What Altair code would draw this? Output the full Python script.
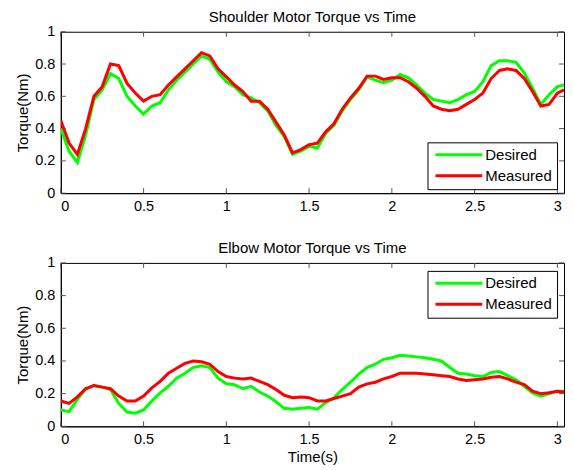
import altair as alt
import pandas as pd

time_s = [0.0, 0.05, 0.1, 0.15, 0.2, 0.25, 0.3, 0.35, 0.4, 0.45, 0.5, 0.55, 0.6, 0.65, 0.7, 0.75,
          0.8, 0.85, 0.9, 0.95, 1.0, 1.05, 1.1, 1.15, 1.2, 1.25, 1.3, 1.35, 1.4, 1.45, 1.5, 1.55,
          1.6, 1.65, 1.7, 1.75, 1.8, 1.85, 1.9, 1.95, 2.0, 2.05, 2.1, 2.15, 2.2, 2.25, 2.3, 2.35,
          2.4, 2.45, 2.5, 2.55, 2.6, 2.65, 2.7, 2.75, 2.8, 2.85, 2.9, 2.95, 3.0, 3.04]

shoulder_desired = [0.40, 0.26, 0.19, 0.36, 0.58, 0.64, 0.74, 0.71, 0.60, 0.54, 0.49, 0.54, 0.56, 0.64, 0.70, 0.75,
                    0.80, 0.85, 0.83, 0.75, 0.69, 0.66, 0.61, 0.59, 0.56, 0.51, 0.42, 0.35, 0.24, 0.26, 0.29, 0.28,
                    0.37, 0.42, 0.51, 0.58, 0.64, 0.72, 0.70, 0.685, 0.70, 0.735, 0.715, 0.67, 0.62, 0.58, 0.57, 0.56,
                    0.58, 0.61, 0.63, 0.69, 0.79, 0.82, 0.82, 0.81, 0.745, 0.65, 0.55, 0.61, 0.66, 0.67]

shoulder_measured = [0.45, 0.31, 0.24, 0.40, 0.60, 0.66, 0.80, 0.79, 0.68, 0.62, 0.57, 0.60, 0.61, 0.67, 0.72, 0.77,
                     0.82, 0.87, 0.85, 0.77, 0.72, 0.67, 0.63, 0.57, 0.57, 0.52, 0.44, 0.36, 0.25, 0.27, 0.30, 0.31,
                     0.38, 0.43, 0.52, 0.59, 0.65, 0.725, 0.725, 0.705, 0.715, 0.715, 0.69, 0.65, 0.60, 0.54, 0.52, 0.51,
                     0.52, 0.55, 0.58, 0.62, 0.71, 0.76, 0.77, 0.76, 0.71, 0.63, 0.54, 0.55, 0.62, 0.64]

elbow_desired = [0.10, 0.09, 0.165, 0.23, 0.25, 0.24, 0.225, 0.14, 0.087, 0.08, 0.10, 0.155, 0.205, 0.245, 0.295, 0.325,
                 0.36, 0.37, 0.36, 0.295, 0.26, 0.255, 0.23, 0.245, 0.21, 0.185, 0.15, 0.11, 0.104, 0.11, 0.115, 0.105,
                 0.145, 0.175, 0.225, 0.27, 0.32, 0.36, 0.38, 0.41, 0.42, 0.435, 0.43, 0.425, 0.42, 0.41, 0.40, 0.36,
                 0.325, 0.32, 0.31, 0.305, 0.33, 0.335, 0.31, 0.285, 0.245, 0.205, 0.185, 0.20, 0.215, 0.215]

elbow_measured = [0.155, 0.14, 0.18, 0.23, 0.25, 0.24, 0.23, 0.185, 0.155, 0.155, 0.185, 0.235, 0.275, 0.325, 0.355, 0.385,
                  0.40, 0.395, 0.38, 0.335, 0.305, 0.295, 0.29, 0.295, 0.275, 0.255, 0.225, 0.19, 0.175, 0.18, 0.175, 0.155,
                  0.155, 0.17, 0.185, 0.20, 0.24, 0.26, 0.27, 0.29, 0.305, 0.325, 0.325, 0.325, 0.32, 0.315, 0.31, 0.305,
                  0.29, 0.28, 0.285, 0.29, 0.30, 0.305, 0.29, 0.27, 0.255, 0.215, 0.20, 0.205, 0.215, 0.21]

series_names = ["Desired", "Measured"]
series_colors = ["#00ff00", "#ff0000"]
x_ticks = [0, 0.5, 1, 1.5, 2, 2.5, 3]
y_ticks = [0, 0.2, 0.4, 0.6, 0.8, 1]
x_max = 3.04

FONT = "Liberation Sans"
W = 505


def panel(title, desired, measured, legend_y, x_title, h):
    n = len(time_s)
    df = pd.DataFrame({
        "t": time_s + time_s,
        "v": desired + measured,
        "s": [series_names[0]] * n + [series_names[1]] * n,
    })
    ty = 5.0 / h
    tx = 5.0 / W * x_max
    rows = []
    for xv in x_ticks:
        rows.append({"t": xv, "t2": xv, "v": 0, "v2": ty})
        rows.append({"t": xv, "t2": xv, "v": 1, "v2": 1 - ty})
    for yv in y_ticks:
        rows.append({"t": 0, "t2": tx, "v": yv, "v2": yv})
        rows.append({"t": x_max, "t2": x_max - tx, "v": yv, "v2": yv})
    ticks_df = pd.DataFrame(rows)

    xs = alt.Scale(domain=[0, x_max], nice=False, zero=False)
    ys = alt.Scale(domain=[0, 1], nice=False)
    x_axis = alt.Axis(values=x_ticks, ticks=False, labelPadding=6, grid=False, labelOverlap=False,
                      labelExpr="format(datum.value, '~g')")
    y_axis = alt.Axis(values=y_ticks, ticks=False, labelPadding=6, grid=False, labelOverlap=False,
                      labelExpr="format(datum.value, '~g')")
    if x_title:
        x_enc = alt.X("t:Q", scale=xs, axis=x_axis, title=x_title)
    else:
        x_enc = alt.X("t:Q", scale=xs, axis=x_axis, title=None)

    lines = alt.Chart(df).mark_line(strokeWidth=3, clip=True).encode(
        x=x_enc,
        y=alt.Y("v:Q", scale=ys, axis=y_axis, title="Torque(Nm)"),
        color=alt.Color("s:N", scale=alt.Scale(domain=series_names, range=series_colors),
                        legend=alt.Legend(orient="none", legendX=368, legendY=legend_y, title=None,
                                          symbolType="M-4,0H4", symbolSize=138, symbolStrokeWidth=3,
                                          symbolOffset=19, labelOffset=19,
                                          labelFontSize=15, labelFont=FONT, labelColor="black",
                                          strokeColor="black", fillColor="white", padding=5,
                                          rowPadding=5)),
    )
    tick_marks = alt.Chart(ticks_df).mark_rule(color="#555555", strokeWidth=1).encode(
        x=alt.X("t:Q", scale=xs, axis=x_axis), x2="t2:Q",
        y=alt.Y("v:Q", scale=ys, axis=y_axis), y2="v2:Q",
    )
    return alt.layer(tick_marks, lines).properties(
        width=W, height=h,
        title=alt.TitleParams(title, fontSize=15, font=FONT, fontWeight="normal", color="black", offset=-1),
    )


top = panel("Shoulder Motor Torque vs Time", shoulder_desired, shoulder_measured, 111, None, 162)
bottom = panel("Elbow Motor Torque vs Time", elbow_desired, elbow_measured, 8, "Time(s)", 164)

chart = alt.vconcat(top, bottom, spacing=27).resolve_legend(color="independent").resolve_scale(
    color="independent"
).properties(
    padding={"left": 7, "top": 0, "right": 0, "bottom": 0}
).configure_view(
    stroke="black", strokeWidth=1
).configure_axis(
    labelFont=FONT, labelFontSize=14.5, labelColor="black", labelOverlap=False,
    titleFont=FONT, titleFontSize=15, titleFontWeight="normal", titleColor="black",
    domainColor="black", domainWidth=1,
)

chart.save("out.html", embed_options={"renderer": "svg", "actions": False})
